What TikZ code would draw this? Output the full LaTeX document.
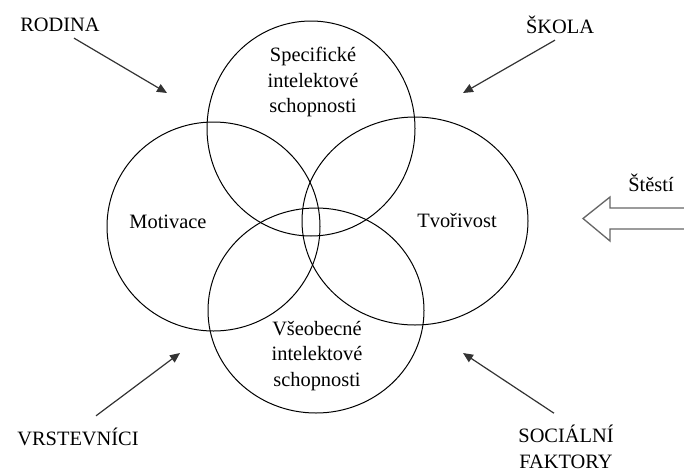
\documentclass[tikz,border=0pt]{standalone}
\usepackage{fontspec}
\setmainfont{Liberation Serif}
\usetikzlibrary{arrows.meta}
\tikzset{
  lbl/.style={font=\fontsize{15.3}{19}\selectfont, inner sep=0pt, align=center},
  infl/.style={-{Triangle[length=7.5pt,width=6.5pt]}, line width=0.9pt, draw=black!80},
  ring/.style={line width=0.75pt}
}
\begin{document}
\begin{tikzpicture}[x=0.75pt,y=-0.75pt]
    \useasboundingbox (0,0) rectangle (684,468);
    \draw[ring] (311,128.5) ellipse [x radius=104, y radius=107.5];
    \draw[ring] (213.5,226.5) ellipse [x radius=106.5, y radius=104.5];
    \draw[ring] (415,221) ellipse [x radius=113, y radius=104];
    \draw[ring] (316,310.5) ellipse [x radius=108, y radius=102.5];
    \node[lbl] (spec) at (313,82) {Specifické\\intelektové\\schopnosti};
    \node[lbl] (mot) at (168,222) {Motivace};
    \node[lbl] (tvor) at (457,220) {Tvořivost};
    \node[lbl] (vseob) at (317,356) {Všeobecné\\intelektové\\schopnosti};
    \node[lbl] (rodina) at (60,25) {RODINA};
    \node[lbl] (skola) at (560,25) {ŠKOLA};
    \node[lbl] (vrst) at (78,437) {VRSTEVNÍCI};
    \node[lbl] (soc) at (566,447) {SOCIÁLNÍ\\FAKTORY};
    \node[lbl] (stesti) at (651,183) {Štěstí};
    \coordinate (rodinaT) at (167,93);
    \coordinate (skolaT) at (463,93);
    \coordinate (vrstT) at (180,353);
    \coordinate (socT) at (463,353);
    \draw[infl] ([shift={(14,6)}]rodina.south) -- (rodinaT);
    \draw[infl] ([shift={(-5,6)}]skola.south) -- (skolaT);
    \draw[infl] ([shift={(18,-12)}]vrst.north) -- (vrstT);
    \draw[infl] ([shift={(-12,-12)}]soc.north) -- (socT);
    % velka sipka
    \draw[black!60, line width=1pt] (684,208) -- (610,208) -- (610,197) -- (583,218.5)
        -- (610,241) -- (610,229) -- (684,229);
\end{tikzpicture}
\end{document}
